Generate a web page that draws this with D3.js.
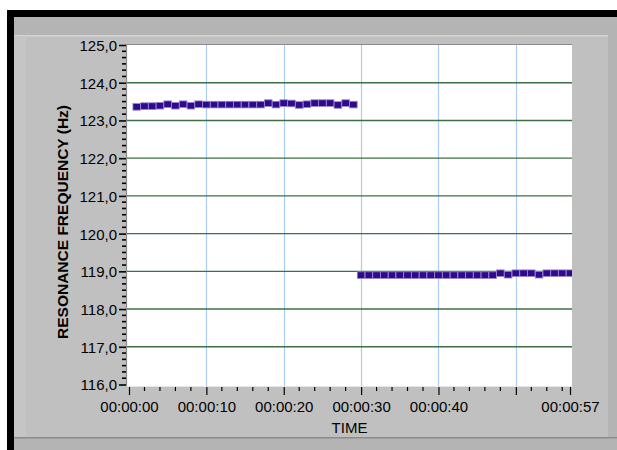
<!DOCTYPE html>
<html>
<head>
<meta charset="utf-8">
<script src="https://cdn.jsdelivr.net/npm/d3@7"></script>
<style>
  html, body { margin: 0; padding: 0; background: #ffffff; }
  svg { display: block; }
  text { font-family: "Liberation Sans", Arial, sans-serif; fill: #000; }
</style>
</head>
<body>
<svg id="chart" width="617" height="450"></svg>
<script>
// Resonance frequency readings, one per second (seconds, Hz)
const timesA = [1,2,3,4,5,6,7,8,9,10,11,12,13,14,15,16,17,18,19,20,21,22,23,24,25,26,27,28,29];
const valuesA = [123.36,123.38,123.38,123.39,123.43,123.39,123.43,123.39,123.43,123.42,
                 123.42,123.42,123.42,123.42,123.42,123.42,123.42,123.46,123.42,123.46,
                 123.45,123.41,123.43,123.46,123.46,123.46,123.41,123.46,123.42];
const timesB = [30,31,32,33,34,35,36,37,38,39,40,41,42,43,44,45,46,47,48,49,50,51,52,53,54,55,56,57];
const valuesB = [118.90,118.90,118.90,118.90,118.90,118.90,118.90,118.90,118.90,118.90,
                 118.90,118.90,118.90,118.90,118.90,118.90,118.90,118.90,118.95,118.91,
                 118.95,118.95,118.95,118.91,118.95,118.95,118.95,118.95];

// Axis ticks
const yMajor = [116,117,118,119,120,121,122,123,124,125];
const yGrid = [117,118,119,120,121,122,123,124];
const xMajor = [0,10,20,30,40,50,57];
const xGrid = [10,20,30,40,50];
const xLabels = [0,10,20,30,40,57];
const xMinor = [2,4,6,8,12,14,16,18,22,24,26,28,32,34,36,38,42,44,46,48,52,54,56];

const yTitle = "RESONANCE FREQUENCY (Hz)";
const xTitle = "TIME";

const svg = d3.select("#chart");

// ---- window frame ----
svg.append("rect").attr("x", 7).attr("y", 10).attr("width", 610).attr("height", 440).attr("fill", "#000");
svg.append("rect").attr("x", 14).attr("y", 17).attr("width", 603).attr("height", 433).attr("fill", "#b4b4b4");
svg.append("rect").attr("x", 14).attr("y", 35).attr("width", 594).attr("height", 402).attr("fill", "#c0c0c0");
svg.append("rect").attr("x", 14).attr("y", 35).attr("width", 594).attr("height", 1.5).attr("fill", "#d4d4d4");
svg.append("rect").attr("x", 14).attr("y", 36).attr("width", 12).attr("height", 401).attr("fill", "#c5c5c5");
svg.append("rect").attr("x", 14).attr("y", 437).attr("width", 603).attr("height", 1.5).attr("fill", "#8c8c8c");

// ---- plot area ----
const plot = { left: 127, right: 572, top: 44, bottom: 386 };

const x = d3.scaleLinear().domain([0, 57]).range([129, 570]);
const y = d3.scaleLinear().domain([116, 125]).range([384.5, 45]);

svg.append("rect")
  .attr("x", plot.left).attr("y", plot.top)
  .attr("width", plot.right - plot.left).attr("height", plot.bottom - plot.top)
  .attr("fill", "#ffffff");

svg.append("defs").append("clipPath").attr("id", "plotClip")
  .append("rect")
  .attr("x", plot.left).attr("y", plot.top)
  .attr("width", plot.right - plot.left).attr("height", plot.bottom - plot.top);

// vertical grid lines (light blue)
svg.append("g").selectAll("line").data(xGrid).join("line")
  .attr("x1", d => Math.round(x(d)) + 0.5).attr("x2", d => Math.round(x(d)) + 0.5)
  .attr("y1", plot.top).attr("y2", plot.bottom)
  .attr("stroke", "#a9cdf4").attr("stroke-width", 1.2);

// horizontal grid lines (dark green)
svg.append("g").selectAll("line").data(yGrid).join("line")
  .attr("x1", plot.left).attr("x2", plot.right)
  .attr("y1", d => y(d)).attr("y2", d => y(d))
  .attr("stroke", "#3f6f45").attr("stroke-width", 1.4);

// plot border (sunken)
svg.append("line").attr("x1", plot.left).attr("x2", plot.right).attr("y1", plot.top + 0.5).attr("y2", plot.top + 0.5)
  .attr("stroke", "#8a8a8a").attr("stroke-width", 1.2);
svg.append("line").attr("x1", plot.left - 0.5).attr("x2", plot.left - 0.5).attr("y1", plot.top).attr("y2", plot.bottom)
  .attr("stroke", "#8a8a8a").attr("stroke-width", 1.2);
svg.append("line").attr("x1", plot.left).attr("x2", plot.right).attr("y1", plot.bottom + 0.5).attr("y2", plot.bottom + 0.5)
  .attr("stroke", "#e6e6e6").attr("stroke-width", 1);

// ---- data markers ----
const seriesA = timesA.map((t, i) => ({ t, v: valuesA[i] }));
const seriesB = timesB.map((t, i) => ({ t, v: valuesB[i] }));
const marks = svg.append("g").attr("clip-path", "url(#plotClip)");
marks.selectAll("rect").data(seriesA.concat(seriesB)).join("rect")
  .attr("x", d => x(d.t) - 3.8).attr("y", d => y(d.v) - 3.3)
  .attr("width", 7.6).attr("height", 6.6)
  .attr("fill", "#2e0a8c")
  .attr("stroke", "#9a86cc").attr("stroke-width", 0.8);

// ---- y axis ----
const yAxis = d3.axisLeft(y).tickValues(yMajor).tickSize(7).tickSizeOuter(0)
  .tickFormat(d => d3.format(".1f")(d).replace(".", ","));
const gy = svg.append("g").attr("transform", `translate(${plot.left - 1},0)`).call(yAxis);
gy.select(".domain").remove();
gy.selectAll(".tick line").attr("stroke", "#000").attr("stroke-width", 1.6);
gy.selectAll(".tick text").attr("x", -9).attr("dy", "0.36em")
  .style("font-size", "15px").style("font-family", "'Liberation Sans', Arial, sans-serif");

// y minor ticks: five between majors
const yMinor = [];
for (let k = 116; k < 125; k++) for (let j = 1; j <= 5; j++) yMinor.push(k + j / 6);
svg.append("g").selectAll("line").data(yMinor).join("line")
  .attr("x1", plot.left - 5).attr("x2", plot.left - 1)
  .attr("y1", d => y(d)).attr("y2", d => y(d))
  .attr("stroke", "#000").attr("stroke-width", 1.6);

// ---- x axis ----
const xAxis = d3.axisBottom(x).tickValues(xMajor).tickSize(8).tickSizeOuter(0)
  .tickFormat(d => xLabels.includes(d) ? "00:00:" + d3.format("02d")(d) : "");
const gx = svg.append("g").attr("transform", `translate(0,${plot.bottom + 1})`).call(xAxis);
gx.select(".domain").remove();
gx.selectAll(".tick line").attr("stroke", "#000").attr("stroke-width", 1.2);
gx.selectAll(".tick text").attr("y", 14).attr("dy", "0.71em")
  .style("font-size", "15px").style("font-family", "'Liberation Sans', Arial, sans-serif");

svg.append("g").selectAll("line").data(xMinor).join("line")
  .attr("x1", d => x(d)).attr("x2", d => x(d))
  .attr("y1", plot.bottom + 1).attr("y2", plot.bottom + 5)
  .attr("stroke", "#000").attr("stroke-width", 1.2);

// ---- axis titles ----
svg.append("text")
  .attr("transform", "translate(68,222) rotate(-90)")
  .attr("text-anchor", "middle")
  .style("font-size", "15.5px").style("font-weight", "bold")
  .text(yTitle);

svg.append("text")
  .attr("x", (plot.left + plot.right) / 2).attr("y", 433)
  .attr("text-anchor", "middle")
  .style("font-size", "15px")
  .text(xTitle);
</script>
</body>
</html>
